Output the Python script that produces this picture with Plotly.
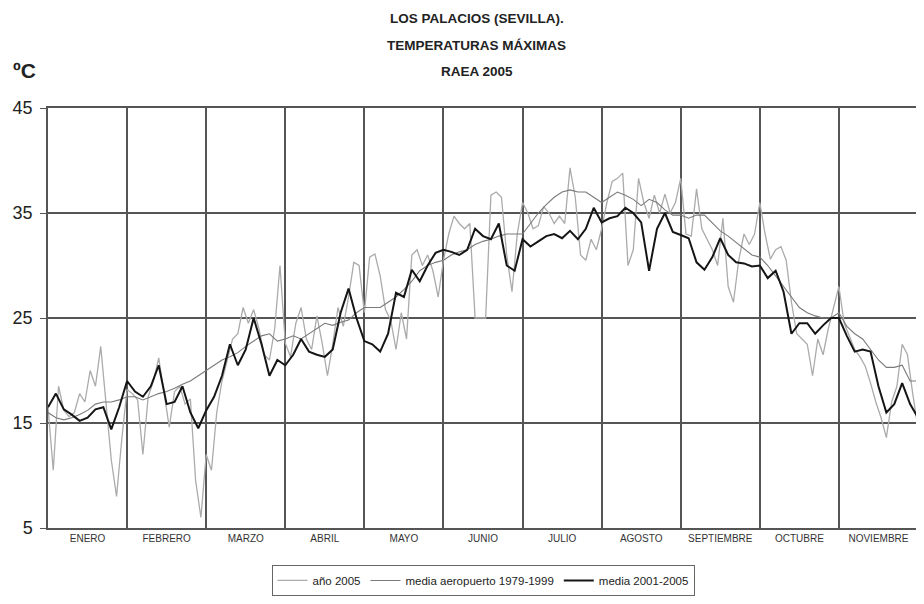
import numpy as np
import plotly.graph_objects as go

### data (ºC)

meses = ["ENERO", "FEBRERO", "MARZO", "ABRIL", "MAYO", "JUNIO", "JULIO",
         "AGOSTO", "SEPTIEMBRE", "OCTUBRE", "NOVIEMBRE"]

# año 2005, 15 readings per month + last day
anio_2005 = [
    16.5, 10.5, 18.5, 16.2, 15.6, 16.0, 17.8, 17.0, 20.0, 18.5, 22.3, 16.5, 11.5, 8.0, 13.5,
    18.2, 17.8, 17.2, 12.0, 17.5, 19.0, 21.2, 18.0, 14.6, 18.0, 18.5, 16.8, 17.3, 9.5, 6.0,
    12.0, 10.5, 16.0, 19.0, 21.0, 23.0, 23.5, 26.0, 24.5, 25.8, 24.0, 21.5, 21.0, 24.0, 30.0,
    22.6, 21.3, 24.5, 26.0, 23.0, 22.0, 25.2, 22.6, 19.5, 22.5, 26.0, 24.2, 27.0, 30.3, 30.0,
    25.5, 30.8, 31.1, 29.0, 25.8, 24.8, 22.0, 25.5, 23.0, 31.0, 31.5, 30.0, 31.0, 29.5, 27.0,
    30.5, 33.0, 34.7, 34.0, 33.5, 34.0, 25.0, 25.0, 25.0, 36.7, 37.0, 36.5, 31.0, 27.5, 33.0,
    36.0, 35.0, 33.5, 33.8, 35.6, 35.0, 34.0, 34.7, 34.0, 39.3, 36.5, 31.0, 30.5, 32.5, 31.5,
    33.5, 36.0, 38.0, 38.3, 38.8, 30.0, 31.5, 38.3, 36.0, 34.5, 36.7, 35.0, 36.8, 35.0, 36.0,
    38.3, 33.0, 32.8, 37.3, 33.5, 32.5, 31.5, 30.0, 34.5, 28.0, 26.5, 30.5, 33.0, 32.0, 33.0,
    36.0, 33.0, 30.6, 31.5, 31.8, 30.5, 26.5, 23.5, 23.0, 22.5, 19.5, 23.0, 21.5, 24.0, 26.0,
    28.0, 24.5, 23.3, 22.0, 21.3, 20.4, 18.8, 17.0, 15.5, 13.6, 17.0, 18.5, 22.5, 21.5, 17.8,
    14.5,
]

# media aeropuerto 1979-1999, 10 readings per month + last day
media_aeropuerto = [
    16.0, 15.5, 15.3, 15.5, 15.8, 16.2, 16.8, 17.0, 17.0, 17.2,
    17.5, 17.5, 17.2, 17.5, 17.8, 18.0, 18.3, 18.7, 19.0, 19.5,
    20.0, 20.5, 21.0, 21.3, 21.7, 22.3, 22.8, 23.3, 23.5, 22.8,
    23.0, 23.3, 23.0, 23.5, 24.0, 24.5, 24.3, 24.6, 24.8, 25.5,
    26.0, 26.0, 26.0, 26.5, 27.0, 27.7, 28.5, 29.5, 30.0, 30.3,
    30.5, 31.0, 31.3, 31.5, 32.0, 32.3, 32.5, 32.8, 33.0, 33.0,
    33.0, 34.0, 35.0, 35.8, 36.5, 37.0, 37.2, 37.0, 37.0, 36.5,
    36.0, 36.5, 37.0, 36.7, 36.3, 35.7, 36.3, 36.0, 35.3, 34.8,
    34.8, 34.5, 34.8, 34.8, 34.0, 33.3, 32.8, 32.2, 31.6, 31.0,
    30.8, 30.0, 29.0, 28.0, 27.0, 26.0, 25.5, 25.2, 25.0, 25.0,
    25.5, 24.2, 23.5, 23.0, 22.0, 21.0, 20.3, 20.3, 20.5, 19.0,
    19.0,
]

# media 2001-2005, 10 readings per month + last day
media_2001_2005 = [
    16.5, 17.8, 16.3, 15.8, 15.2, 15.5, 16.3, 16.5, 14.4, 16.5,
    19.0, 18.0, 17.5, 18.5, 20.5, 16.8, 17.0, 18.5, 16.0, 14.5,
    16.2, 17.5, 19.5, 22.5, 20.5, 22.0, 25.0, 22.5, 19.5, 21.0,
    20.5, 21.5, 23.0, 21.8, 21.5, 21.3, 22.0, 25.5, 27.8, 25.0,
    22.8, 22.5, 21.8, 23.5, 27.4, 27.0, 29.6, 28.5, 30.0, 31.2,
    31.5, 31.3, 31.0, 31.5, 33.5, 32.8, 32.5, 34.0, 30.0, 29.5,
    32.5, 31.8, 32.3, 32.8, 33.0, 32.6, 33.3, 32.5, 33.5, 35.5,
    34.1, 34.5, 34.7, 35.5, 35.0, 34.1, 29.5, 33.5, 35.0, 33.2,
    32.9, 32.6, 30.3, 29.6, 30.8, 32.6, 31.0, 30.3, 30.2, 29.9,
    30.0, 28.8, 29.5, 27.5, 23.5, 24.5, 24.5, 23.5, 24.3, 25.0,
    25.0, 23.3, 21.8, 22.0, 21.8, 18.5, 16.0, 16.8, 18.8, 16.8,
    15.5,
]

# x in months (0 = 1 enero)
x_2005 = np.arange(len(anio_2005)) / 15
x_medias = np.arange(len(media_aeropuerto)) / 10

FONT = "Liberation Sans"

fig = go.Figure()

fig.add_trace(go.Scatter(x=x_2005, y=anio_2005, mode="lines", name="año 2005",
                         line=dict(color="#ababab", width=1.3)))
fig.add_trace(go.Scatter(x=x_medias, y=media_aeropuerto, mode="lines",
                         name="media aeropuerto 1979-1999",
                         line=dict(color="#7a7a7a", width=1.1)))
fig.add_trace(go.Scatter(x=x_medias, y=media_2001_2005, mode="lines",
                         name="media 2001-2005",
                         line=dict(color="#151515", width=2)))

# the page body adds 8px on the top and left, so the figure is 8px smaller
fig.update_layout(
    width=916, height=596,
    margin=dict(l=40, r=4, t=100, b=76),
    paper_bgcolor="white",
    plot_bgcolor="white",
    font=dict(family=FONT, color="#222"),
    xaxis=dict(
        range=[0, 11],
        tickmode="array",
        tickvals=[i + 0.5 for i in range(len(meses))],
        ticktext=meses,
        tickfont=dict(size=10, color="#333"),
        ticks="",
        showgrid=False,
        zeroline=False,
        showline=True, linecolor="#555", linewidth=1.5, mirror=True,
        minor=dict(tickmode="linear", tick0=0, dtick=1, showgrid=True,
                   gridcolor="#555", gridwidth=1.7, ticks=""),
    ),
    yaxis=dict(
        range=[5, 45],
        tickmode="linear", tick0=5, dtick=10,
        tickfont=dict(size=18, color="#222"),
        ticks="outside", ticklen=6, tickcolor="#555",
        ticklabelstandoff=4,
        showgrid=True, gridcolor="#555", gridwidth=1.7,
        zeroline=False,
        showline=True, linecolor="#555", linewidth=1.5, mirror=True,
    ),
    showlegend=True,
    legend=dict(orientation="h", x=0.5, xanchor="center", y=-0.088, yanchor="top",
                font=dict(size=11.5, color="#222"),
                bordercolor="#666", borderwidth=1, itemwidth=30,
                tracegroupgap=0, bgcolor="white"),
)

# titles
for txt, yy in [("LOS PALACIOS (SEVILLA).", 1.214),
                 ("TEMPERATURAS MÁXIMAS", 1.150),
                 ("RAEA 2005", 1.086)]:
    fig.add_annotation(text="<b>" + txt + "</b>", xref="paper", yref="paper",
                       x=0.493, y=yy, xanchor="center", yanchor="middle",
                       showarrow=False,
                       font=dict(size=13.5, family=FONT, color="#222"))

fig.add_annotation(text="<b>ºC</b>", xref="paper", yref="paper", x=-0.0275, y=1.09,
                   xanchor="center", yanchor="middle", showarrow=False,
                   font=dict(size=21, family=FONT, color="#222"))

fig.write_html("out.html")
